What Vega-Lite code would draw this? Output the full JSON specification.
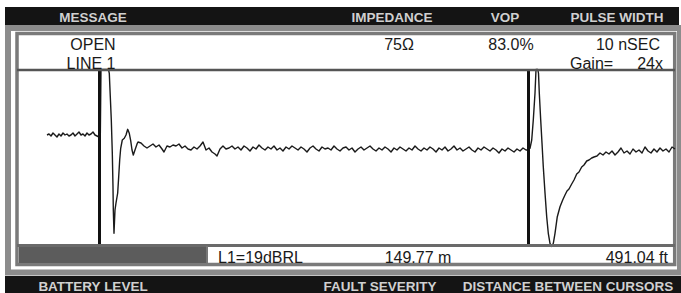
{
  "$schema": "https://vega.github.io/schema/vega-lite/v6.json",
  "width": 681,
  "height": 293,
  "padding": 0,
  "autosize": {"type": "none"},
  "background": "#ffffff",
  "config": {"view": {"stroke": null}, "axis": {"disable": true}, "text": {"font": "Liberation Sans"}},
  "resolve": {"scale": {"x": "independent", "y": "independent"}},
  "layer": [
    {
      "data": {"values": [{}]},
      "layer": [
        {"mark": {"type": "rect", "fill": "#141414"}, "encoding": {"x": {"datum": 5, "type": "quantitative", "scale": {"domain": [0, 681], "nice": false, "zero": false}, "axis": null}, "x2": {"datum": 679}, "y": {"datum": 7, "type": "quantitative", "scale": {"domain": [0, 293], "reverse": true, "nice": false, "zero": false}, "axis": null}, "y2": {"datum": 25}}},
        {"mark": {"type": "rect", "fill": "#141414"}, "encoding": {"x": {"datum": 5, "type": "quantitative"}, "x2": {"datum": 681}, "y": {"datum": 276, "type": "quantitative"}, "y2": {"datum": 293}}},
        {"mark": {"type": "rect", "filled": false, "stroke": "#8c8c8c", "strokeWidth": 6}, "encoding": {"x": {"datum": 8, "type": "quantitative"}, "x2": {"datum": 680}, "y": {"datum": 28, "type": "quantitative"}, "y2": {"datum": 272.5}}},
        {"mark": {"type": "rect", "filled": false, "stroke": "#7a7a7a", "strokeWidth": 3.5}, "encoding": {"x": {"datum": 17, "type": "quantitative"}, "x2": {"datum": 674.7}, "y": {"datum": 33.5, "type": "quantitative"}, "y2": {"datum": 264.5}}},
        {"mark": {"type": "rect", "fill": "#5c5c5c"}, "encoding": {"x": {"datum": 19, "type": "quantitative"}, "x2": {"datum": 206}, "y": {"datum": 247, "type": "quantitative"}, "y2": {"datum": 263}}}
      ]
    },
    {
      "data": {"values": [
        {"distance_m": -18.33, "level": 15}, {"distance_m": -17.63, "level": 16}, {"distance_m": -16.93, "level": 14}, {"distance_m": -16.23, "level": 17}, {"distance_m": -15.54, "level": 15}, {"distance_m": -14.84, "level": 13}, {"distance_m": -14.14, "level": 16}, {"distance_m": -13.44, "level": 14}, {"distance_m": -12.74, "level": 17}, {"distance_m": -12.04, "level": 15}, {"distance_m": -11.35, "level": 16}, {"distance_m": -10.65, "level": 14}, {"distance_m": -9.95, "level": 15}, {"distance_m": -9.25, "level": 17}, {"distance_m": -8.55, "level": 14}, {"distance_m": -7.85, "level": 16}, {"distance_m": -7.16, "level": 18}, {"distance_m": -6.46, "level": 15}, {"distance_m": -5.76, "level": 16}, {"distance_m": -5.06, "level": 14}, {"distance_m": -4.36, "level": 17}, {"distance_m": -3.67, "level": 15}, {"distance_m": -2.97, "level": 16}, {"distance_m": -2.27, "level": 18}, {"distance_m": -1.57, "level": 15}, {"distance_m": -0.87, "level": 14}, {"distance_m": -0.17, "level": 13},
        {"distance_m": 0.28, "level": 14}, {"distance_m": 0.52, "level": 80.5}, {"distance_m": 3.14, "level": 80.5}, {"distance_m": 3.42, "level": 76.7},
        {"distance_m": 3.77, "level": 53.3}, {"distance_m": 4.12, "level": 30}, {"distance_m": 4.47, "level": -3}, {"distance_m": 4.71, "level": -36.7}, {"distance_m": 4.82, "level": -60}, {"distance_m": 5.06, "level": -83.3}, {"distance_m": 5.41, "level": -60}, {"distance_m": 5.76, "level": -53}, {"distance_m": 6.35, "level": -43}, {"distance_m": 6.70, "level": -26.7}, {"distance_m": 7.05, "level": -10}, {"distance_m": 7.40, "level": 1.7}, {"distance_m": 7.96, "level": 10}, {"distance_m": 8.66, "level": 11.7}, {"distance_m": 9.25, "level": 15}, {"distance_m": 9.84, "level": 20.7}, {"distance_m": 10.40, "level": 16.7}, {"distance_m": 10.89, "level": 9.3}, {"distance_m": 11.35, "level": 0}, {"distance_m": 11.80, "level": -5}, {"distance_m": 12.39, "level": 0}, {"distance_m": 13.20, "level": 6.7},
        {"distance_m": 13.44, "level": 8}, {"distance_m": 14.49, "level": 7}, {"distance_m": 15.54, "level": 4}, {"distance_m": 16.58, "level": 2}, {"distance_m": 17.63, "level": 4}, {"distance_m": 18.68, "level": 6}, {"distance_m": 19.72, "level": 3}, {"distance_m": 20.77, "level": 5}, {"distance_m": 21.82, "level": 1}, {"distance_m": 22.52, "level": -2}, {"distance_m": 23.56, "level": 4}, {"distance_m": 24.61, "level": 3}, {"distance_m": 25.66, "level": 5}, {"distance_m": 26.71, "level": 4}, {"distance_m": 27.75, "level": 6}, {"distance_m": 28.80, "level": 2}, {"distance_m": 29.85, "level": 4}, {"distance_m": 30.90, "level": 1}, {"distance_m": 31.94, "level": 0}, {"distance_m": 32.99, "level": 3}, {"distance_m": 34.04, "level": 1}, {"distance_m": 35.09, "level": 4}, {"distance_m": 36.13, "level": 8}, {"distance_m": 37.18, "level": 0}, {"distance_m": 38.23, "level": 2}, {"distance_m": 39.27, "level": -2}, {"distance_m": 40.32, "level": -4}, {"distance_m": 41.02, "level": -6}, {"distance_m": 42.07, "level": 1}, {"distance_m": 43.11, "level": 4}, {"distance_m": 44.16, "level": 1},
        {"distance_m": 45.21, "level": 2}, {"distance_m": 46.26, "level": 4}, {"distance_m": 47.30, "level": 1}, {"distance_m": 48.35, "level": 3}, {"distance_m": 49.40, "level": 0}, {"distance_m": 50.45, "level": 4}, {"distance_m": 51.49, "level": 2}, {"distance_m": 52.54, "level": -1}, {"distance_m": 53.59, "level": 3}, {"distance_m": 54.64, "level": 1},
        {"distance_m": 55.68, "level": 5}, {"distance_m": 56.73, "level": 2}, {"distance_m": 57.78, "level": 0}, {"distance_m": 58.82, "level": 3}, {"distance_m": 59.87, "level": 1}, {"distance_m": 60.92, "level": 4}, {"distance_m": 61.97, "level": 0}, {"distance_m": 63.01, "level": 2}, {"distance_m": 64.06, "level": -1}, {"distance_m": 65.11, "level": 3},
        {"distance_m": 66.16, "level": 1}, {"distance_m": 67.20, "level": 4}, {"distance_m": 68.25, "level": 2}, {"distance_m": 69.30, "level": 0}, {"distance_m": 70.35, "level": 3}, {"distance_m": 71.39, "level": 1}, {"distance_m": 72.44, "level": -2}, {"distance_m": 73.49, "level": 2}, {"distance_m": 74.54, "level": 4}, {"distance_m": 75.58, "level": 1},
        {"distance_m": 76.63, "level": -1}, {"distance_m": 77.68, "level": 3}, {"distance_m": 78.72, "level": 1}, {"distance_m": 79.77, "level": 2}, {"distance_m": 80.82, "level": 0}, {"distance_m": 81.87, "level": 4}, {"distance_m": 82.91, "level": 1}, {"distance_m": 83.96, "level": -1}, {"distance_m": 85.01, "level": 2}, {"distance_m": 86.06, "level": 3},
        {"distance_m": 87.10, "level": 0}, {"distance_m": 88.15, "level": 2}, {"distance_m": 89.20, "level": -2}, {"distance_m": 90.25, "level": 1}, {"distance_m": 91.29, "level": 3}, {"distance_m": 92.34, "level": 0}, {"distance_m": 93.39, "level": 2}, {"distance_m": 94.44, "level": 4}, {"distance_m": 95.48, "level": 1}, {"distance_m": 96.53, "level": -1},
        {"distance_m": 97.58, "level": 2}, {"distance_m": 98.62, "level": 0}, {"distance_m": 99.67, "level": 3}, {"distance_m": 100.72, "level": 1}, {"distance_m": 101.77, "level": -2}, {"distance_m": 102.81, "level": 2}, {"distance_m": 103.86, "level": 0}, {"distance_m": 104.91, "level": 3}, {"distance_m": 105.96, "level": 1}, {"distance_m": 107.00, "level": -1},
        {"distance_m": 108.05, "level": 2}, {"distance_m": 109.10, "level": 0}, {"distance_m": 110.15, "level": 4}, {"distance_m": 111.19, "level": 1}, {"distance_m": 112.24, "level": -1}, {"distance_m": 113.29, "level": 2}, {"distance_m": 114.33, "level": 0}, {"distance_m": 115.38, "level": 3}, {"distance_m": 116.43, "level": 1}, {"distance_m": 117.48, "level": -2},
        {"distance_m": 118.52, "level": 2}, {"distance_m": 119.57, "level": 0}, {"distance_m": 120.62, "level": 3}, {"distance_m": 121.67, "level": -1}, {"distance_m": 122.71, "level": 1}, {"distance_m": 123.76, "level": 4}, {"distance_m": 124.81, "level": 0}, {"distance_m": 125.86, "level": 2}, {"distance_m": 126.90, "level": -1}, {"distance_m": 127.95, "level": 1},
        {"distance_m": 129.00, "level": 3}, {"distance_m": 130.04, "level": 0}, {"distance_m": 131.09, "level": -2}, {"distance_m": 132.14, "level": 2}, {"distance_m": 133.19, "level": 0}, {"distance_m": 134.23, "level": 3}, {"distance_m": 135.28, "level": 1}, {"distance_m": 136.33, "level": -1}, {"distance_m": 137.38, "level": 2}, {"distance_m": 138.42, "level": 0},
        {"distance_m": 139.47, "level": -3}, {"distance_m": 140.52, "level": 1}, {"distance_m": 141.57, "level": -1}, {"distance_m": 142.61, "level": 2}, {"distance_m": 143.66, "level": 0}, {"distance_m": 144.71, "level": -2}, {"distance_m": 145.75, "level": 1}, {"distance_m": 146.80, "level": -1}, {"distance_m": 147.85, "level": 2}, {"distance_m": 148.90, "level": 0},
        {"distance_m": 149.59, "level": 0},
        {"distance_m": 150.29, "level": 1.7}, {"distance_m": 150.89, "level": 10}, {"distance_m": 151.44, "level": 30}, {"distance_m": 152.04, "level": 57}, {"distance_m": 152.39, "level": 80.5}, {"distance_m": 153.02, "level": 80.5}, {"distance_m": 153.26, "level": 76.7}, {"distance_m": 153.54, "level": 56.7}, {"distance_m": 154.03, "level": 30}, {"distance_m": 154.48, "level": 7}, {"distance_m": 154.93, "level": -16.7}, {"distance_m": 155.53, "level": -43}, {"distance_m": 156.12, "level": -66.7}, {"distance_m": 156.68, "level": -83.3}, {"distance_m": 157.27, "level": -93.3}, {"distance_m": 157.87, "level": -96.5}, {"distance_m": 158.43, "level": -93.3}, {"distance_m": 159.02, "level": -83.3}, {"distance_m": 159.82, "level": -66.7}, {"distance_m": 160.77, "level": -56.7}, {"distance_m": 161.71, "level": -50}, {"distance_m": 162.51, "level": -45}, {"distance_m": 163.21, "level": -41}, {"distance_m": 163.91, "level": -39}, {"distance_m": 164.85, "level": -34}, {"distance_m": 165.65, "level": -30}, {"distance_m": 166.60, "level": -24}, {"distance_m": 167.40, "level": -22}, {"distance_m": 168.34, "level": -17}, {"distance_m": 169.14, "level": -15}, {"distance_m": 170.09, "level": -11}, {"distance_m": 170.89, "level": -10}, {"distance_m": 171.83, "level": -8}, {"distance_m": 172.63, "level": -7},
        {"distance_m": 173.68, "level": -6}, {"distance_m": 174.73, "level": -3}, {"distance_m": 175.78, "level": -5}, {"distance_m": 176.82, "level": -2}, {"distance_m": 177.87, "level": -4}, {"distance_m": 178.92, "level": -1}, {"distance_m": 179.97, "level": -5}, {"distance_m": 181.01, "level": -2}, {"distance_m": 182.06, "level": 2}, {"distance_m": 183.11, "level": -3}, {"distance_m": 184.16, "level": -1}, {"distance_m": 185.20, "level": -4}, {"distance_m": 186.25, "level": 1}, {"distance_m": 187.30, "level": -2}, {"distance_m": 188.34, "level": 0}, {"distance_m": 189.39, "level": -3}, {"distance_m": 190.44, "level": 3}, {"distance_m": 191.49, "level": -1}, {"distance_m": 192.53, "level": -3}, {"distance_m": 193.58, "level": 1}, {"distance_m": 194.63, "level": -2}, {"distance_m": 195.68, "level": 2}, {"distance_m": 196.72, "level": -1}, {"distance_m": 197.77, "level": 1}, {"distance_m": 198.82, "level": -2}, {"distance_m": 199.87, "level": 3}, {"distance_m": 200.91, "level": 1}
      ]},
      "layer": [
        {"mark": {"type": "line", "stroke": "#1a1a1a", "strokeWidth": 1.4, "strokeJoin": "round"}, "encoding": {"x": {"field": "distance_m", "type": "quantitative", "sort": null, "scale": {"domain": [-34.736, 203.007], "nice": false, "zero": false}, "axis": null}, "y": {"field": "level", "type": "quantitative", "scale": {"domain": [-143, 150], "nice": false, "zero": false}, "axis": null}, "order": {"field": "distance_m", "type": "quantitative"}}},
        {"data": {"values": [{"cursor": "1", "distance_m": 0}, {"cursor": "2", "distance_m": 149.77}]}, "mark": {"type": "rule", "stroke": "#111111", "strokeWidth": 3}, "encoding": {"x": {"field": "distance_m", "type": "quantitative"}, "y": {"datum": 80, "type": "quantitative"}, "y2": {"datum": -96}}}
      ]
    },
    {
      "data": {"values": [{}]},
      "layer": [
        {"mark": {"type": "rule", "stroke": "#555555", "strokeWidth": 2.5}, "encoding": {"x": {"datum": 17, "type": "quantitative", "scale": {"domain": [0, 681], "nice": false, "zero": false}, "axis": null}, "x2": {"datum": 675}, "y": {"datum": 70, "type": "quantitative", "scale": {"domain": [0, 293], "reverse": true, "nice": false, "zero": false}, "axis": null}}},
        {"mark": {"type": "rule", "stroke": "#6a6a6a", "strokeWidth": 3}, "encoding": {"x": {"datum": 17, "type": "quantitative"}, "x2": {"datum": 675}, "y": {"datum": 245.5, "type": "quantitative"}}},
        {"mark": {"type": "rule", "stroke": "#777777", "strokeWidth": 2}, "encoding": {"x": {"datum": 207, "type": "quantitative"}, "y": {"datum": 246, "type": "quantitative"}, "y2": {"datum": 264}}},
        {"mark": {"type": "text", "text": "MESSAGE", "fontSize": 13.5, "fontWeight": "bold", "fill": "#d0d0d0", "align": "center", "baseline": "alphabetic"}, "encoding": {"x": {"datum": 93, "type": "quantitative"}, "y": {"datum": 22, "type": "quantitative"}}},
        {"mark": {"type": "text", "text": "IMPEDANCE", "fontSize": 13.5, "fontWeight": "bold", "fill": "#d0d0d0", "align": "center", "baseline": "alphabetic"}, "encoding": {"x": {"datum": 392, "type": "quantitative"}, "y": {"datum": 22, "type": "quantitative"}}},
        {"mark": {"type": "text", "text": "VOP", "fontSize": 13.5, "fontWeight": "bold", "fill": "#d0d0d0", "align": "center", "baseline": "alphabetic"}, "encoding": {"x": {"datum": 505, "type": "quantitative"}, "y": {"datum": 22, "type": "quantitative"}}},
        {"mark": {"type": "text", "text": "PULSE WIDTH", "fontSize": 13.5, "fontWeight": "bold", "fill": "#d0d0d0", "align": "center", "baseline": "alphabetic"}, "encoding": {"x": {"datum": 617, "type": "quantitative"}, "y": {"datum": 22, "type": "quantitative"}}},
        {"mark": {"type": "text", "text": "BATTERY LEVEL", "fontSize": 13.5, "fontWeight": "bold", "fill": "#d0d0d0", "align": "center", "baseline": "alphabetic"}, "encoding": {"x": {"datum": 93, "type": "quantitative"}, "y": {"datum": 291, "type": "quantitative"}}},
        {"mark": {"type": "text", "text": "FAULT SEVERITY", "fontSize": 13.5, "fontWeight": "bold", "fill": "#d0d0d0", "align": "center", "baseline": "alphabetic"}, "encoding": {"x": {"datum": 380, "type": "quantitative"}, "y": {"datum": 291, "type": "quantitative"}}},
        {"mark": {"type": "text", "text": "DISTANCE BETWEEN CURSORS", "fontSize": 13.5, "fontWeight": "bold", "fill": "#d0d0d0", "align": "center", "baseline": "alphabetic"}, "encoding": {"x": {"datum": 568, "type": "quantitative"}, "y": {"datum": 291, "type": "quantitative"}}},
        {"mark": {"type": "text", "text": "OPEN", "fontSize": 16, "fill": "#1a1a1a", "align": "center", "baseline": "alphabetic"}, "encoding": {"x": {"datum": 93, "type": "quantitative"}, "y": {"datum": 50, "type": "quantitative"}}},
        {"mark": {"type": "text", "text": "LINE 1", "fontSize": 16, "fill": "#1a1a1a", "align": "center", "baseline": "alphabetic"}, "encoding": {"x": {"datum": 91, "type": "quantitative"}, "y": {"datum": 69, "type": "quantitative"}}},
        {"mark": {"type": "text", "text": "75Ω", "fontSize": 16, "fill": "#1a1a1a", "align": "center", "baseline": "alphabetic"}, "encoding": {"x": {"datum": 399, "type": "quantitative"}, "y": {"datum": 50, "type": "quantitative"}}},
        {"mark": {"type": "text", "text": "83.0%", "fontSize": 16, "fill": "#1a1a1a", "align": "center", "baseline": "alphabetic"}, "encoding": {"x": {"datum": 511, "type": "quantitative"}, "y": {"datum": 50, "type": "quantitative"}}},
        {"mark": {"type": "text", "text": "10 nSEC", "fontSize": 16, "fill": "#1a1a1a", "align": "right", "baseline": "alphabetic"}, "encoding": {"x": {"datum": 660, "type": "quantitative"}, "y": {"datum": 50, "type": "quantitative"}}},
        {"mark": {"type": "text", "text": "Gain=", "fontSize": 16, "fill": "#1a1a1a", "align": "left", "baseline": "alphabetic"}, "encoding": {"x": {"datum": 570, "type": "quantitative"}, "y": {"datum": 69, "type": "quantitative"}}},
        {"mark": {"type": "text", "text": "24x", "fontSize": 16, "fill": "#1a1a1a", "align": "right", "baseline": "alphabetic"}, "encoding": {"x": {"datum": 663, "type": "quantitative"}, "y": {"datum": 69, "type": "quantitative"}}},
        {"mark": {"type": "text", "text": "L1=19dBRL", "fontSize": 16, "fill": "#1a1a1a", "align": "left", "baseline": "alphabetic"}, "encoding": {"x": {"datum": 218, "type": "quantitative"}, "y": {"datum": 263, "type": "quantitative"}}},
        {"mark": {"type": "text", "text": "149.77 m", "fontSize": 16, "fill": "#1a1a1a", "align": "center", "baseline": "alphabetic"}, "encoding": {"x": {"datum": 418, "type": "quantitative"}, "y": {"datum": 263, "type": "quantitative"}}},
        {"mark": {"type": "text", "text": "491.04 ft", "fontSize": 16, "fill": "#1a1a1a", "align": "right", "baseline": "alphabetic"}, "encoding": {"x": {"datum": 668, "type": "quantitative"}, "y": {"datum": 263, "type": "quantitative"}}}
      ]
    }
  ]
}
